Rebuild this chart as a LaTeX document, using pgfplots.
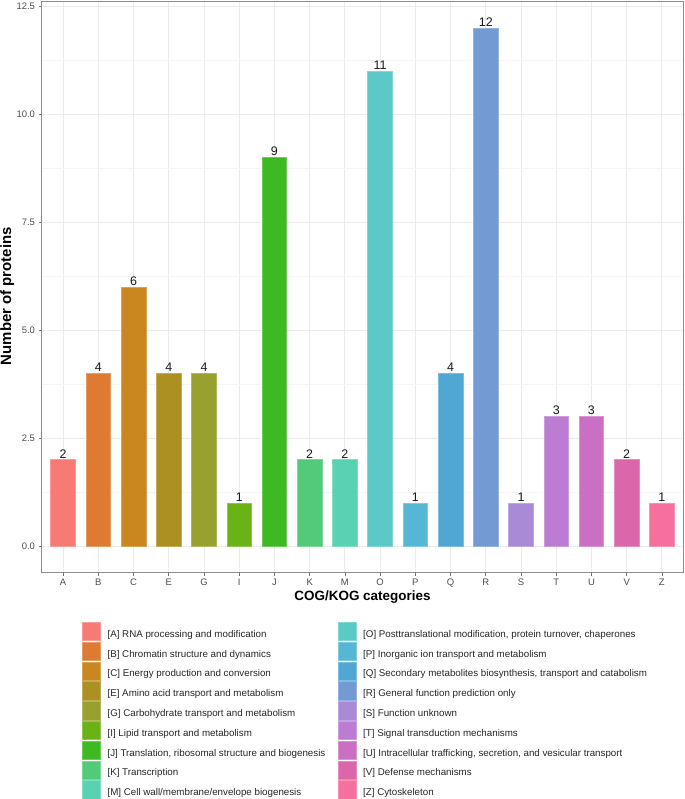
\documentclass[border=0pt]{standalone}
\usepackage{pgfplots}
\pgfplotsset{compat=1.18}
\usepackage{fontspec}
\setmainfont{Liberation Sans}
\definecolor{cA}{HTML}{F77B74}
\definecolor{cB}{HTML}{DE7B33}
\definecolor{cC}{HTML}{CA8720}
\definecolor{cE}{HTML}{AD9022}
\definecolor{cG}{HTML}{98A12D}
\definecolor{cI}{HTML}{69B315}
\definecolor{cJ}{HTML}{3DBA22}
\definecolor{cK}{HTML}{53C97A}
\definecolor{cM}{HTML}{58D2B1}
\definecolor{cO}{HTML}{5BC9C6}
\definecolor{cP}{HTML}{55B7D3}
\definecolor{cQ}{HTML}{51A7D3}
\definecolor{cR}{HTML}{739AD2}
\definecolor{cS}{HTML}{A88AD7}
\definecolor{cT}{HTML}{BD7CD3}
\definecolor{cU}{HTML}{CA6FC4}
\definecolor{cV}{HTML}{DB66AA}
\definecolor{cZ}{HTML}{F76F9E}
\definecolor{ticktext}{HTML}{4D4D4D}
\newcommand{\lc}[1]{\makebox[230bp][l]{#1}}
\begin{document}
\begin{tikzpicture}
\useasboundingbox (0,0) rectangle (685bp,799bp);
\begin{axis}[
  at={(42bp,227bp)}, anchor=south west,
  scale only axis, width=641bp, height=570bp,
  xmin=-0.6, xmax=17.6, ymin=-0.6, ymax=12.6,
  ybar, bar width=0.7,
  every axis plot/.append style={bar shift=0pt, line width=0.7bp},
  xtick={0,...,17},
  xticklabels={A,B,C,E,G,I,J,K,M,O,P,Q,R,S,T,U,V,Z},
  ytick={0,2.5,5,7.5,10,12.5},
  minor ytick={1.25,3.75,6.25,8.75,11.25},
  yticklabel style={/pgf/number format/.cd,fixed,fixed zerofill,precision=1},
  /pgf/number format/assume math mode=true,
  xtick pos=bottom, ytick pos=left,
  tick align=outside,
  major tick length=3.5bp,
  tick style={color=black!55, line width=0.7bp},
  minor tick length=0pt,
  ticklabel style={font=\fontsize{9.5}{11}\selectfont, text=ticktext},
  xticklabel style={yshift=0.5bp},
  xmajorgrids, ymajorgrids, yminorgrids,
  major grid style={color=black!8, line width=0.9bp},
  minor grid style={color=black!4, line width=0.5bp},
  axis line style={color=black!45, line width=1bp},
  xlabel={\textbf{COG/KOG categories}},
  ylabel={\textbf{Number of proteins}},
  xlabel style={font=\fontsize{13.5}{15}\selectfont, at={(axis description cs:0.5,-0.044)}, anchor=center},
  ylabel style={font=\fontsize{15}{17}\selectfont, at={(axis description cs:-0.054,0.484)}, anchor=center},
  nodes near coords,
  nodes near coords style={font=\fontsize{12.5}{14}\selectfont, anchor=south, inner sep=1.2bp, text=black!90},
  legend columns=2,
  legend cell align=left,
  legend style={draw=none, fill=none, at={(axis description cs:0.0624,-0.0877)}, anchor=north west,
    inner sep=0pt, outer sep=0pt, row sep=-2.7bp,
    nodes={inner sep=0pt, text height=12.4bp, text depth=7.2bp, font=\fontsize{9.8}{11}\selectfont, text=black!85},
    /tikz/every odd column/.append style={column sep=7bp},
    /tikz/every even column/.append style={column sep=0bp}},
  legend image code/.code={\path[#1, line width=0.6bp] (0bp,-6.0bp) rectangle (18bp,12.4bp);},
]
\addplot[fill=cA, draw=cA!75!white] coordinates {(0,2)};
\addlegendentry{\lc{[A] RNA processing and modification}}
\addplot[fill=cO, draw=cO!75!white] coordinates {(9,11)};
\addlegendentry{[O] Posttranslational modification, protein turnover, chaperones}
\addplot[fill=cB, draw=cB!75!white] coordinates {(1,4)};
\addlegendentry{\lc{[B] Chromatin structure and dynamics}}
\addplot[fill=cP, draw=cP!75!white] coordinates {(10,1)};
\addlegendentry{[P] Inorganic ion transport and metabolism}
\addplot[fill=cC, draw=cC!75!white] coordinates {(2,6)};
\addlegendentry{\lc{[C] Energy production and conversion}}
\addplot[fill=cQ, draw=cQ!75!white] coordinates {(11,4)};
\addlegendentry{[Q] Secondary metabolites biosynthesis, transport and catabolism}
\addplot[fill=cE, draw=cE!75!white] coordinates {(3,4)};
\addlegendentry{\lc{[E] Amino acid transport and metabolism}}
\addplot[fill=cR, draw=cR!75!white] coordinates {(12,12)};
\addlegendentry{[R] General function prediction only}
\addplot[fill=cG, draw=cG!75!white] coordinates {(4,4)};
\addlegendentry{\lc{[G] Carbohydrate transport and metabolism}}
\addplot[fill=cS, draw=cS!75!white] coordinates {(13,1)};
\addlegendentry{[S] Function unknown}
\addplot[fill=cI, draw=cI!75!white] coordinates {(5,1)};
\addlegendentry{\lc{[I] Lipid transport and metabolism}}
\addplot[fill=cT, draw=cT!75!white] coordinates {(14,3)};
\addlegendentry{[T] Signal transduction mechanisms}
\addplot[fill=cJ, draw=cJ!75!white] coordinates {(6,9)};
\addlegendentry{\lc{[J] Translation, ribosomal structure and biogenesis}}
\addplot[fill=cU, draw=cU!75!white] coordinates {(15,3)};
\addlegendentry{[U] Intracellular trafficking, secretion, and vesicular transport}
\addplot[fill=cK, draw=cK!75!white] coordinates {(7,2)};
\addlegendentry{\lc{[K] Transcription}}
\addplot[fill=cV, draw=cV!75!white] coordinates {(16,2)};
\addlegendentry{[V] Defense mechanisms}
\addplot[fill=cM, draw=cM!75!white] coordinates {(8,2)};
\addlegendentry{\lc{[M] Cell wall/membrane/envelope biogenesis}}
\addplot[fill=cZ, draw=cZ!75!white] coordinates {(17,1)};
\addlegendentry{[Z] Cytoskeleton}
\end{axis}
\end{tikzpicture}
\end{document}
